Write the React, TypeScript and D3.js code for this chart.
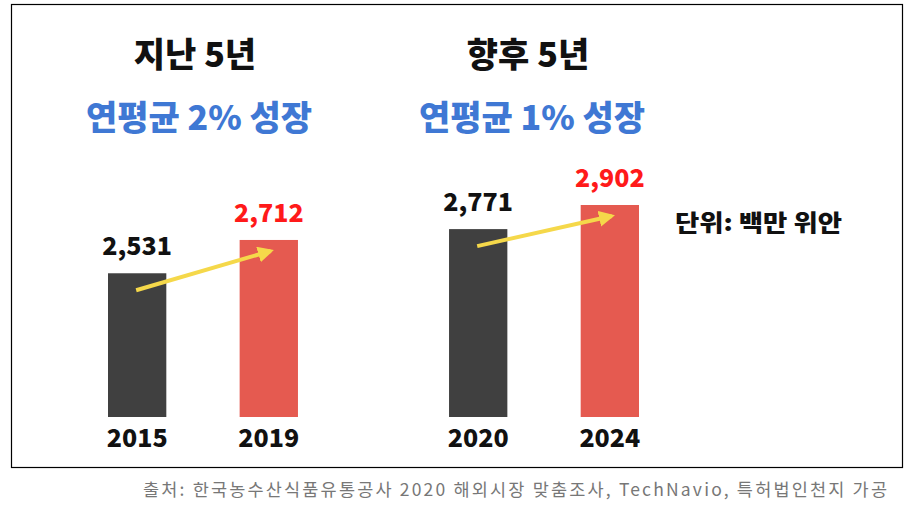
import React from "react";
import * as d3 from "d3";

// data
const periods = ["지난 5년", "향후 5년"];
const growthLabels = ["연평균 2% 성장", "연평균 1% 성장"];
const years = [["2015", "2019"], ["2020", "2024"]];
const values = [[2531, 2712], [2771, 2902]];
const unitLabel = "단위: 백만 위안";
const source = "출처: 한국농수산식품유통공사 2020 해외시장 맞춤조사, TechNavio, 특허법인천지 가공";

const W = 911;
const H = 507;
const FONT = "'Noto Sans CJK KR', 'Noto Sans', sans-serif";

export default function App() {
  const base = 417;
  const y = d3.scaleLinear().domain([1750, 2902]).range([base, 205]);
  const xOuter = d3.scaleBand<string>().domain(periods).range([108, 639]).paddingInner(0.443).paddingOuter(0);
  const xInner = d3.scaleBand<number>().domain([0, 1]).range([0, xOuter.bandwidth()]).paddingInner(0.557).paddingOuter(0);
  const bw = xInner.bandwidth();
  const barColors = ["#404040", "#e55a50"];
  const labelColors = ["#111", "#ff1a1a"];
  const arrowColor = "#f5d84a";

  return (
    <svg width={W} height={H} style={{ position: "absolute", left: 0, top: 0, background: "#fff" }}>
      <defs>
        <marker id="head" viewBox="0 0 10 10" refX="8" refY="5" markerWidth="4" markerHeight="4" orient="auto">
          <path d="M0,0 L10,5 L0,10 z" fill={arrowColor} />
        </marker>
      </defs>
      <rect x={11.5} y={4.5} width={891} height={463} fill="none" stroke="#000" strokeWidth={1.2} />

      {periods.map((p, gi) => {
        const g0 = xOuter(p)!;
        const cx = g0 + xOuter.bandwidth() / 2 - 4;
        const c0 = g0 + xInner(0)! + bw / 2;
        const c1 = g0 + xInner(1)! + bw / 2;
        return (
          <g key={p}>
            <text x={cx - (gi ? 12 : 4)} y={67} textAnchor="middle" fontFamily={FONT} fontWeight={900} fontSize={34} fill="#111">
              {p}
            </text>
            <text x={cx - (gi ? 8 : 0)} y={130} textAnchor="middle" fontFamily={FONT} fontWeight={900} fontSize={34} fill="#3f78d4">
              {growthLabels[gi]}
            </text>
            {values[gi].map((v, i) => {
              const bx = g0 + xInner(i)!;
              return (
                <g key={i}>
                  <rect x={bx} y={y(v)} width={bw} height={base - y(v)} fill={barColors[i]} />
                  <text x={bx + bw / 2} y={y(v) - 18} textAnchor="middle" fontFamily={FONT} fontWeight={900} fontSize={25} fill={labelColors[i]}>
                    {d3.format(",")(v)}
                  </text>
                  <text x={bx + bw / 2} y={447} textAnchor="middle" fontFamily={FONT} fontWeight={900} fontSize={25} fill="#111">
                    {years[gi][i]}
                  </text>
                </g>
              );
            })}
            <line
              x1={c0 - 1}
              y1={y(values[gi][0]) + 17}
              x2={c1 + 2}
              y2={y(values[gi][1]) + 11}
              stroke={arrowColor}
              strokeWidth={4}
              markerEnd="url(#head)"
            />
          </g>
        );
      })}

      <text x={675} y={231} fontFamily={FONT} fontWeight={900} fontSize={23} fill="#111" textLength={167} lengthAdjust="spacingAndGlyphs">
        {unitLabel}
      </text>
      <text x={143} y={496} fontFamily={FONT} fontSize={17.5} fill="#777" textLength={744} lengthAdjust="spacing">
        {source}
      </text>
    </svg>
  );
}
